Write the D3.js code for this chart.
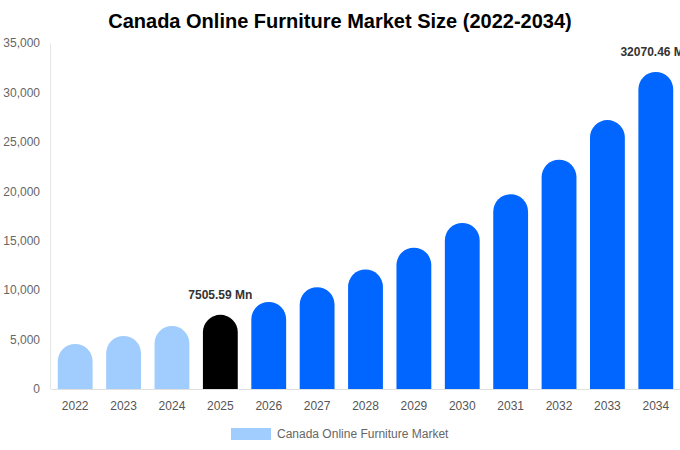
<!DOCTYPE html>
<html><head><meta charset="utf-8">
<script src="https://cdn.jsdelivr.net/npm/d3@7"></script>
<style>body{margin:0;background:#fff}</style></head>
<body><svg id="c" width="680" height="450"></svg>
<script>
const years=["2022","2023","2024","2025","2026","2027","2028","2029","2030","2031","2032","2033","2034"];
const values=[4550,5360,6370,7505.59,8800,10300,12100,14300,16800,19700,23200,27200,32070.46];
const yTicks=[0,5000,10000,15000,20000,25000,30000,35000];
const labels={"2025":"7505.59 Mn","2034":"32070.46 Mn"};
const colorOf=y=>+y<2025?"#a0cdfd":(+y===2025?"#000000":"#0066ff");
const svg=d3.select("#c"),font="Liberation Sans, Arial, sans-serif";
const x=d3.scaleBand().domain(years).range([51,680]).paddingInner(0.28).paddingOuter(0.14);
const y=d3.scaleLinear().domain([0,35000]).range([389,43]);
svg.append("text").attr("x",340).attr("y",28).attr("text-anchor","middle").attr("font-family",font).attr("font-size",20).attr("font-weight","bold").attr("fill","#000").text("Canada Online Furniture Market Size (2022-2034)");
const ya=svg.append("g").attr("transform","translate(50,0)").call(d3.axisLeft(y).tickValues(yTicks).tickFormat(d3.format(",")).tickSize(0).tickPadding(10));
ya.select(".domain").attr("stroke","#e6e6e6");
ya.selectAll("text").attr("font-family",font).attr("font-size",12).attr("fill","#666");
const xa=svg.append("g").attr("transform","translate(0,389)").call(d3.axisBottom(x).tickSize(0).tickPadding(12));
xa.select(".domain").attr("stroke","#e0e0e0");
xa.selectAll("text").attr("font-family",font).attr("font-size",12).attr("fill","#555");
const w=x.bandwidth(),r=w/2;
svg.append("g").selectAll("path").data(years).join("path")
 .attr("fill",d=>colorOf(d))
 .attr("d",(d,i)=>{const x0=x(d),top=y(values[i]),b=y(0);
   return `M${x0},${b}L${x0},${top+r}A${r},${r} 0 0 1 ${x0+w},${top+r}L${x0+w},${b}Z`;});
years.forEach((d,i)=>{if(labels[d])svg.append("text").attr("x",x(d)+w/2).attr("y",y(values[i])-16).attr("text-anchor","middle").attr("font-family",font).attr("font-size",12).attr("font-weight","bold").attr("fill","#333").text(labels[d]);});
svg.append("rect").attr("x",231).attr("y",428).attr("width",40).attr("height",12).attr("fill","#a0cdfd");
svg.append("text").attr("x",277).attr("y",437.5).attr("font-family",font).attr("font-size",12).attr("fill","#666").text("Canada Online Furniture Market");
</script></body></html>
